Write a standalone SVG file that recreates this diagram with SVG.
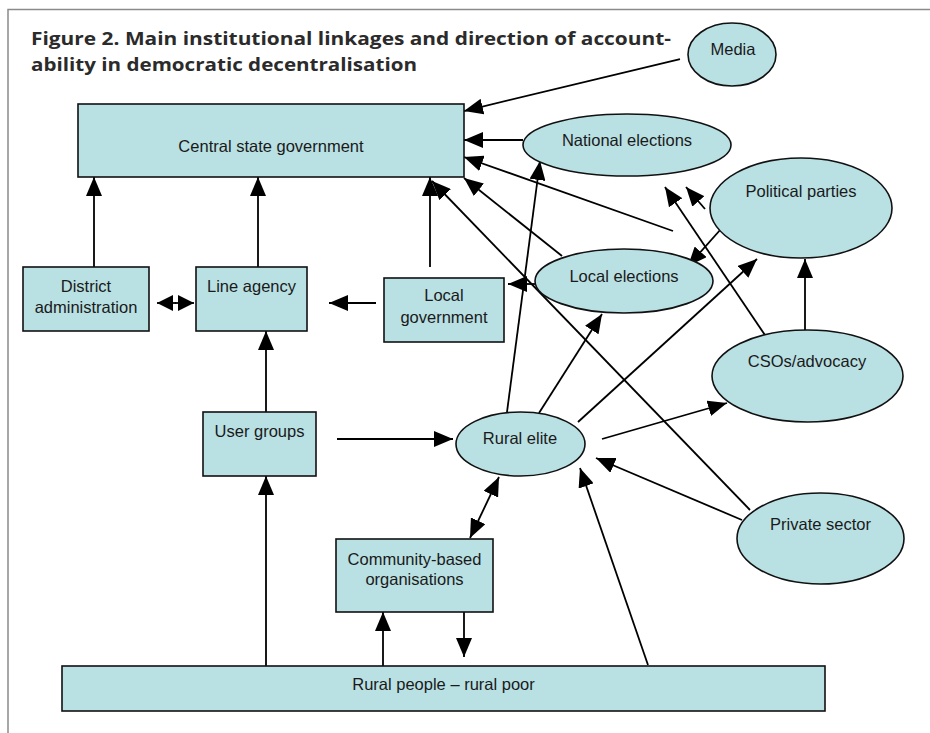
<svg xmlns="http://www.w3.org/2000/svg" width="930" height="733" viewBox="0 0 930 733">
<style>
.nd{fill:#b9e0e3;stroke:#111;stroke-width:1.6}
.lb{font-family:"Liberation Sans",Arial,sans-serif;font-size:16.5px;fill:#1a1a1a;text-anchor:middle}
.ttl{font-family:"Open Sans","Noto Sans",sans-serif;font-weight:700;font-size:18.5px;fill:#2b2b2b}
.cn line{stroke:#000;stroke-width:1.8;marker-end:url(#ah)}
.cn line.dbl{marker-start:url(#ah2)}
</style>
<defs>
<marker id="ah" markerUnits="userSpaceOnUse" markerWidth="20" markerHeight="16" refX="19" refY="8" orient="auto"><path d="M0,0 L19,8 L0,16 z" fill="#000"/></marker>
<marker id="ah2" markerUnits="userSpaceOnUse" markerWidth="20" markerHeight="16" refX="19" refY="8" orient="auto-start-reverse"><path d="M0,0 L19,8 L0,16 z" fill="#000"/></marker>
<marker id="as" markerUnits="userSpaceOnUse" markerWidth="17" markerHeight="16" refX="16" refY="8" orient="auto-start-reverse"><path d="M0,0 L16,8 L0,16 z" fill="#000"/></marker>
</defs>
<rect width="930" height="733" fill="#fff"/>
<path d="M8,733 V9.5 H930" fill="none" stroke="#8a8a8a" stroke-width="1.5"/>
<text class="ttl" x="31" y="45" textLength="640" lengthAdjust="spacingAndGlyphs">Figure 2. Main institutional linkages and direction of account-</text>
<text class="ttl" x="31" y="71" textLength="386" lengthAdjust="spacingAndGlyphs">ability in democratic decentralisation</text>

<g class="cn" id="connectors">
<line x1="94" y1="267" x2="94" y2="177"/>
<line x1="258" y1="267" x2="258" y2="177"/>
<line x1="430" y1="267" x2="430" y2="177"/>
<line x1="750" y1="510" x2="432" y2="181"/>
<line x1="562" y1="256" x2="464" y2="178"/>
<line x1="673" y1="231" x2="464" y2="157"/>
<line x1="523" y1="140" x2="464" y2="140"/>
<line x1="680" y1="59" x2="464" y2="111"/>
<line x1="507" y1="412" x2="540" y2="161"/>
<line x1="535" y1="284" x2="508" y2="284"/>
<line x1="376" y1="303" x2="329" y2="303"/>
<line x1="175" y1="303" x2="194" y2="303" style="marker-end:url(#as)"/>
<line x1="176" y1="303" x2="157" y2="303" style="marker-end:url(#as)"/>
<line x1="266" y1="412" x2="266" y2="331"/>
<line x1="266" y1="666" x2="266" y2="476"/>
<line x1="383" y1="666" x2="383" y2="612"/>
<line x1="464" y1="603" x2="464" y2="657"/>
<line class="dbl" x1="470" y1="538" x2="499" y2="477"/>
<line x1="337" y1="439" x2="453" y2="439"/>
<line x1="648" y1="665" x2="580" y2="468"/>
<line x1="742" y1="520" x2="596" y2="458"/>
<line x1="602" y1="439" x2="727" y2="403"/>
<line x1="539" y1="413" x2="602" y2="314"/>
<line x1="578" y1="422" x2="757" y2="259"/>
<line x1="805" y1="330" x2="805" y2="259"/>
<line x1="721" y1="229" x2="688" y2="266"/>
<line x1="773" y1="347" x2="665" y2="187"/>
<line x1="705" y1="209" x2="686" y2="187"/>
</g>

<g id="central-state-government"><rect class="nd" x="78" y="104" width="386" height="73"/><text class="lb" x="271" y="152">Central state government</text></g>
<g id="media"><ellipse class="nd" cx="732" cy="54.5" rx="44" ry="31.5"/><text class="lb" x="733" y="55">Media</text></g>
<g id="national-elections"><ellipse class="nd" cx="627" cy="145" rx="104" ry="31"/><text class="lb" x="627" y="146">National elections</text></g>
<g id="political-parties"><ellipse class="nd" cx="801" cy="208" rx="91" ry="50"/><text class="lb" x="801" y="197">Political parties</text></g>
<g id="local-elections"><ellipse class="nd" cx="624" cy="281" rx="89" ry="32"/><text class="lb" x="624" y="282">Local elections</text></g>
<g id="csos-advocacy"><ellipse class="nd" cx="807.5" cy="376" rx="95.5" ry="46"/><text class="lb" x="807" y="367">CSOs/advocacy</text></g>
<g id="rural-elite"><ellipse class="nd" cx="520.5" cy="444" rx="64.5" ry="32"/><text class="lb" x="520" y="444">Rural elite</text></g>
<g id="private-sector"><ellipse class="nd" cx="820.5" cy="538.5" rx="83.5" ry="45.5"/><text class="lb" x="820.5" y="530">Private sector</text></g>
<g id="district-administration"><rect class="nd" x="23" y="267" width="126" height="64"/><text class="lb" x="86" y="292">District</text><text class="lb" x="86" y="313">administration</text></g>
<g id="line-agency"><rect class="nd" x="196" y="267" width="111" height="64"/><text class="lb" x="251.5" y="292">Line agency</text></g>
<g id="local-government"><rect class="nd" x="384" y="278" width="120" height="64"/><text class="lb" x="444" y="301">Local</text><text class="lb" x="444" y="323">government</text></g>
<g id="user-groups"><rect class="nd" x="203" y="412" width="113" height="64"/><text class="lb" x="259.5" y="437">User groups</text></g>
<g id="community-based-organisations"><rect class="nd" x="336" y="539" width="157" height="73"/><text class="lb" x="414.5" y="565">Community-based</text><text class="lb" x="414.5" y="585">organisations</text></g>
<g id="rural-people"><rect class="nd" x="62" y="666" width="763" height="45"/><text class="lb" x="443.5" y="690">Rural people – rural poor</text></g>
</svg>
